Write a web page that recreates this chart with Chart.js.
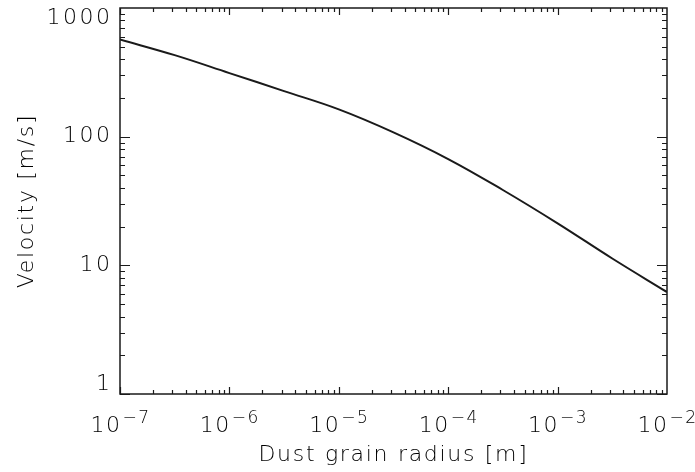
<!DOCTYPE html>
<html>
<head>
<meta charset="utf-8">
<script src="https://cdn.jsdelivr.net/npm/chart.js@4.4.1/dist/chart.umd.min.js"></script>
<style>
	html, body { margin: 0; padding: 0; background: #fff; }
	#wrap { width: 695px; height: 472px; }
</style>
</head>
<body>
<div id="wrap"><canvas id="grafica" width="695" height="472"></canvas></div>
<script>
// datos
const radio = [1e-7, 3.16e-7, 1e-6, 3.16e-6, 1e-5, 3.16e-5, 1e-4, 3.16e-4, 1e-3, 3.16e-3, 1e-2];
const velocidad = [569, 430, 312, 226, 163, 108, 67, 38.5, 21.2, 11.3, 6.2];
const xExponentes = [-7, -6, -5, -4, -3, -2];
const yEtiquetas = [1, 10, 100, 1000];

const FUENTE = "'DejaVu Sans', 'Liberation Sans', sans-serif";
const PESO = "200";
const COLOR = "#000";

// marcas hacia adentro en los cuatro lados, estilo IDL
const marcasPlugin = {
	id: "marcas",
	beforeDraw(chart) {
		chart.ctx.letterSpacing = "1.7px";
	},
	afterDraw(chart) {
		const c = chart.ctx;
		const a = chart.chartArea;
		const sx = chart.scales.x;
		const sy = chart.scales.y;
		c.save();
		c.strokeStyle = "#1a1a1a";
		c.lineWidth = 1.5;
		c.strokeRect(a.left, a.top, a.right - a.left, a.bottom - a.top);

		c.lineWidth = 1.2;
		c.beginPath();
		for (let d = -7; d < -2; d++) {
			for (let m = 1; m <= 9; m++) {
				const px = Math.round(sx.getPixelForValue(m * Math.pow(10, d))) + 0.5;
				const len = m === 1 ? 7 : 4;
				c.moveTo(px, a.bottom); c.lineTo(px, a.bottom - len);
				c.moveTo(px, a.top); c.lineTo(px, a.top + len);
			}
		}
		for (let d = 0; d < 3; d++) {
			for (let m = 1; m <= 9; m++) {
				const py = Math.round(sy.getPixelForValue(m * Math.pow(10, d))) + 0.5;
				const len = m === 1 ? 10 : 5;
				c.moveTo(a.left, py); c.lineTo(a.left + len, py);
				c.moveTo(a.right, py); c.lineTo(a.right - len, py);
			}
		}
		c.stroke();

		// etiquetas eje x: 10 con exponente
		c.fillStyle = COLOR;
		c.letterSpacing = "1.5px";
		c.textBaseline = "alphabetic";
		c.textAlign = "left";
		xExponentes.forEach((e) => {
			const px = sx.getPixelForValue(Math.pow(10, e));
			const base = "10";
			const exp = "\u2212" + Math.abs(e);
			c.font = PESO + " 22px " + FUENTE;
			const w1 = c.measureText(base).width;
			c.font = PESO + " 17px " + FUENTE;
			const w2 = c.measureText(exp).width;
			const x0 = px - (w1 + w2) / 2;
			c.font = PESO + " 22px " + FUENTE;
			c.fillText(base, x0, 432);
			c.font = PESO + " 17px " + FUENTE;
			c.fillText(exp, x0 + w1 + 1, 423);
		});

		// etiquetas eje y, dentro del rango del eje
		c.font = PESO + " 22px " + FUENTE;
		c.letterSpacing = "2.5px";
		c.textAlign = "right";
		c.textBaseline = "middle";
		yEtiquetas.forEach((v) => {
			let py = sy.getPixelForValue(v);
			py = Math.min(Math.max(py, a.top + 10), a.bottom - 10);
			c.fillText(String(v), a.left - 7.5, py);
		});
		c.restore();
	},
};

const ctx = document.getElementById("grafica");
new Chart(ctx, {
	type: "line",
	data: {
		datasets: [
			{
				data: radio.map((r, i) => ({ x: r, y: velocidad[i] })),
				borderColor: "#1a1a1a",
				borderWidth: 2,
				pointRadius: 0,
				tension: 0.4,
				fill: false,
			},
		],
	},
	options: {
		responsive: false,
		animation: false,
		layout: { padding: { left: 0, right: 28, top: 8, bottom: 0 } },
		plugins: {
			legend: { display: false },
			tooltip: { enabled: false },
		},
		scales: {
			x: {
				type: "logarithmic",
				min: 1e-7,
				max: 1e-2,
				grid: { display: false },
				border: { display: false },
				ticks: { display: false },
				title: {
					display: true,
					text: "Dust grain radius [m]",
					color: COLOR,
					font: { family: FUENTE, size: 22, weight: PESO },
					padding: { top: 0, bottom: 4 },
				},
				afterFit(scale) {
					scale.height = 78;
					scale.paddingLeft = 0;
					scale.paddingRight = 0;
				},
			},
			y: {
				type: "logarithmic",
				min: 1,
				max: 1000,
				grid: { display: false },
				border: { display: false },
				ticks: { display: false },
				title: {
					display: true,
					text: "Velocity [m/s]",
					color: COLOR,
					font: { family: FUENTE, size: 22, weight: PESO },
					padding: { top: 14, bottom: 0 },
				},
				afterFit(scale) {
					scale.width = 120;
					scale.paddingTop = 0;
					scale.paddingBottom = 0;
				},
			},
		},
	},
	plugins: [marcasPlugin],
});
</script>
</body>
</html>
